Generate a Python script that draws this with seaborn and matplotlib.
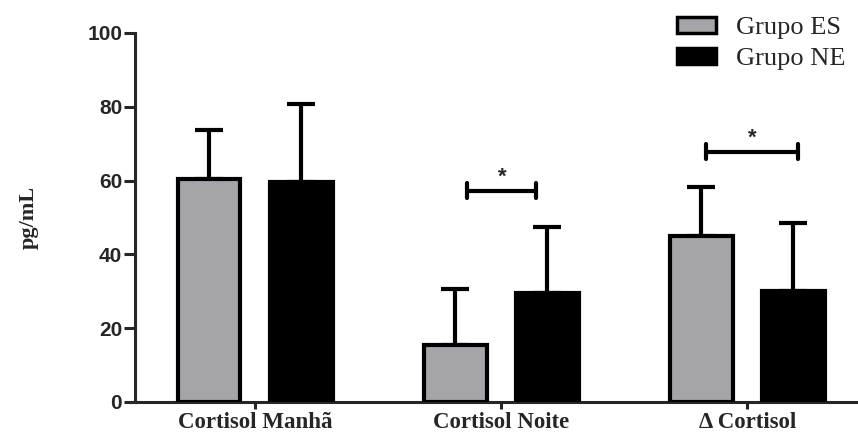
import numpy as np
import pandas as pd
import seaborn as sns
import matplotlib.pyplot as plt

# data
categories = ["Cortisol Manhã", "Cortisol Noite", "\u0394 Cortisol"]
groups = ["Grupo ES", "Grupo NE"]
es_mean = [60.4, 15.4, 45.0]
es_err = [13.3, 15.2, 13.3]
ne_mean = [59.6, 29.5, 30.1]
ne_err = [21.2, 17.9, 18.4]
sig_cats = [1, 2]           # category index with significance bracket
sig_height = [57.2, 67.8]
sig_shift = [(0.05, -0.045), (0.02, 0.02)]   # bracket ends vs bar centres

df = pd.DataFrame({
    "cat": categories * 2,
    "grupo": [groups[0]] * 3 + [groups[1]] * 3,
    "val": es_mean + ne_mean,
    "err": es_err + ne_err,
})

sns.set_style("ticks")
plt.rcParams["font.family"] = ["Liberation Sans", "DejaVu Sans"]

fig = plt.figure(figsize=(8.58, 4.33), dpi=100)
ax = fig.add_axes([0.157, 0.0716, 0.843, 0.8524])

palette = {"Grupo ES": "#a5a4a9", "Grupo NE": "#000000"}
sns.barplot(data=df, x="cat", y="val", hue="grupo", order=categories,
            hue_order=groups, palette=palette, width=0.75, gap=0.32,
            edgecolor="black", linewidth=3, errorbar=None, saturation=1,
            ax=ax, zorder=3)

# upper error bars only
for cont, g in zip(ax.containers, groups):
    sub = df[df.grupo == g].set_index("cat").loc[categories]
    xs = [p.get_x() + p.get_width() / 2 for p in cont.patches]
    ax.errorbar(xs, sub.val, yerr=[np.zeros(3), sub.err], fmt="none",
                ecolor="black", elinewidth=3, capsize=10, capthick=3,
                zorder=2)

# significance brackets
for ci, h, (da, db) in zip(sig_cats, sig_height, sig_shift):
    p0 = ax.containers[0].patches[ci]
    p1 = ax.containers[1].patches[ci]
    a = p0.get_x() + p0.get_width() / 2 + da
    b = p1.get_x() + p1.get_width() / 2 + db
    kw = dict(color="black", lw=3, solid_capstyle="round")
    ax.plot([a, b], [h, h], **kw)
    ax.plot([a, a], [h - 2, h + 2], **kw)
    ax.plot([b, b], [h - 2, h + 2], **kw)
    ax.text((a + b) / 2, h + 3.8, "*", ha="center", va="center",
            fontsize=16, fontweight="bold")

ax.set_ylim(0, 100)
ax.set_xlim(-0.49, 2.45)
ax.set_yticks([0, 20, 40, 60, 80, 100])
sns.despine(ax=ax)
for s in ["left", "bottom"]:
    ax.spines[s].set_linewidth(2.2)
ax.tick_params(axis="y", length=8, width=2.2, labelsize=15, pad=1)
ax.tick_params(axis="x", length=5, width=2.2, pad=2)
for t in ax.get_yticklabels():
    t.set_fontweight("bold")
ax.set_xticks(range(3))
ax.set_xticklabels(categories, family="Liberation Serif", fontweight="bold",
                   fontsize=16.5)
ax.set_xlabel("")
ax.set_ylabel("pg/mL", family="Liberation Serif", fontweight="bold",
              fontsize=16, labelpad=35)

leg = fig.legend(handles=ax.get_legend_handles_labels()[0],
                 labels=groups, loc="upper right",
                 bbox_to_anchor=(0.998, 0.985), borderaxespad=0,
                 frameon=False, prop={"family": "Liberation Serif", "size": 19},
                 handlelength=1.5, handleheight=0.55, handletextpad=0.75,
                 labelspacing=0.33)
ax.get_legend().remove()
for h in leg.legend_handles:
    h.set_edgecolor("black")
    h.set_linewidth(2.5)

fig.savefig("out.png", dpi=100)
